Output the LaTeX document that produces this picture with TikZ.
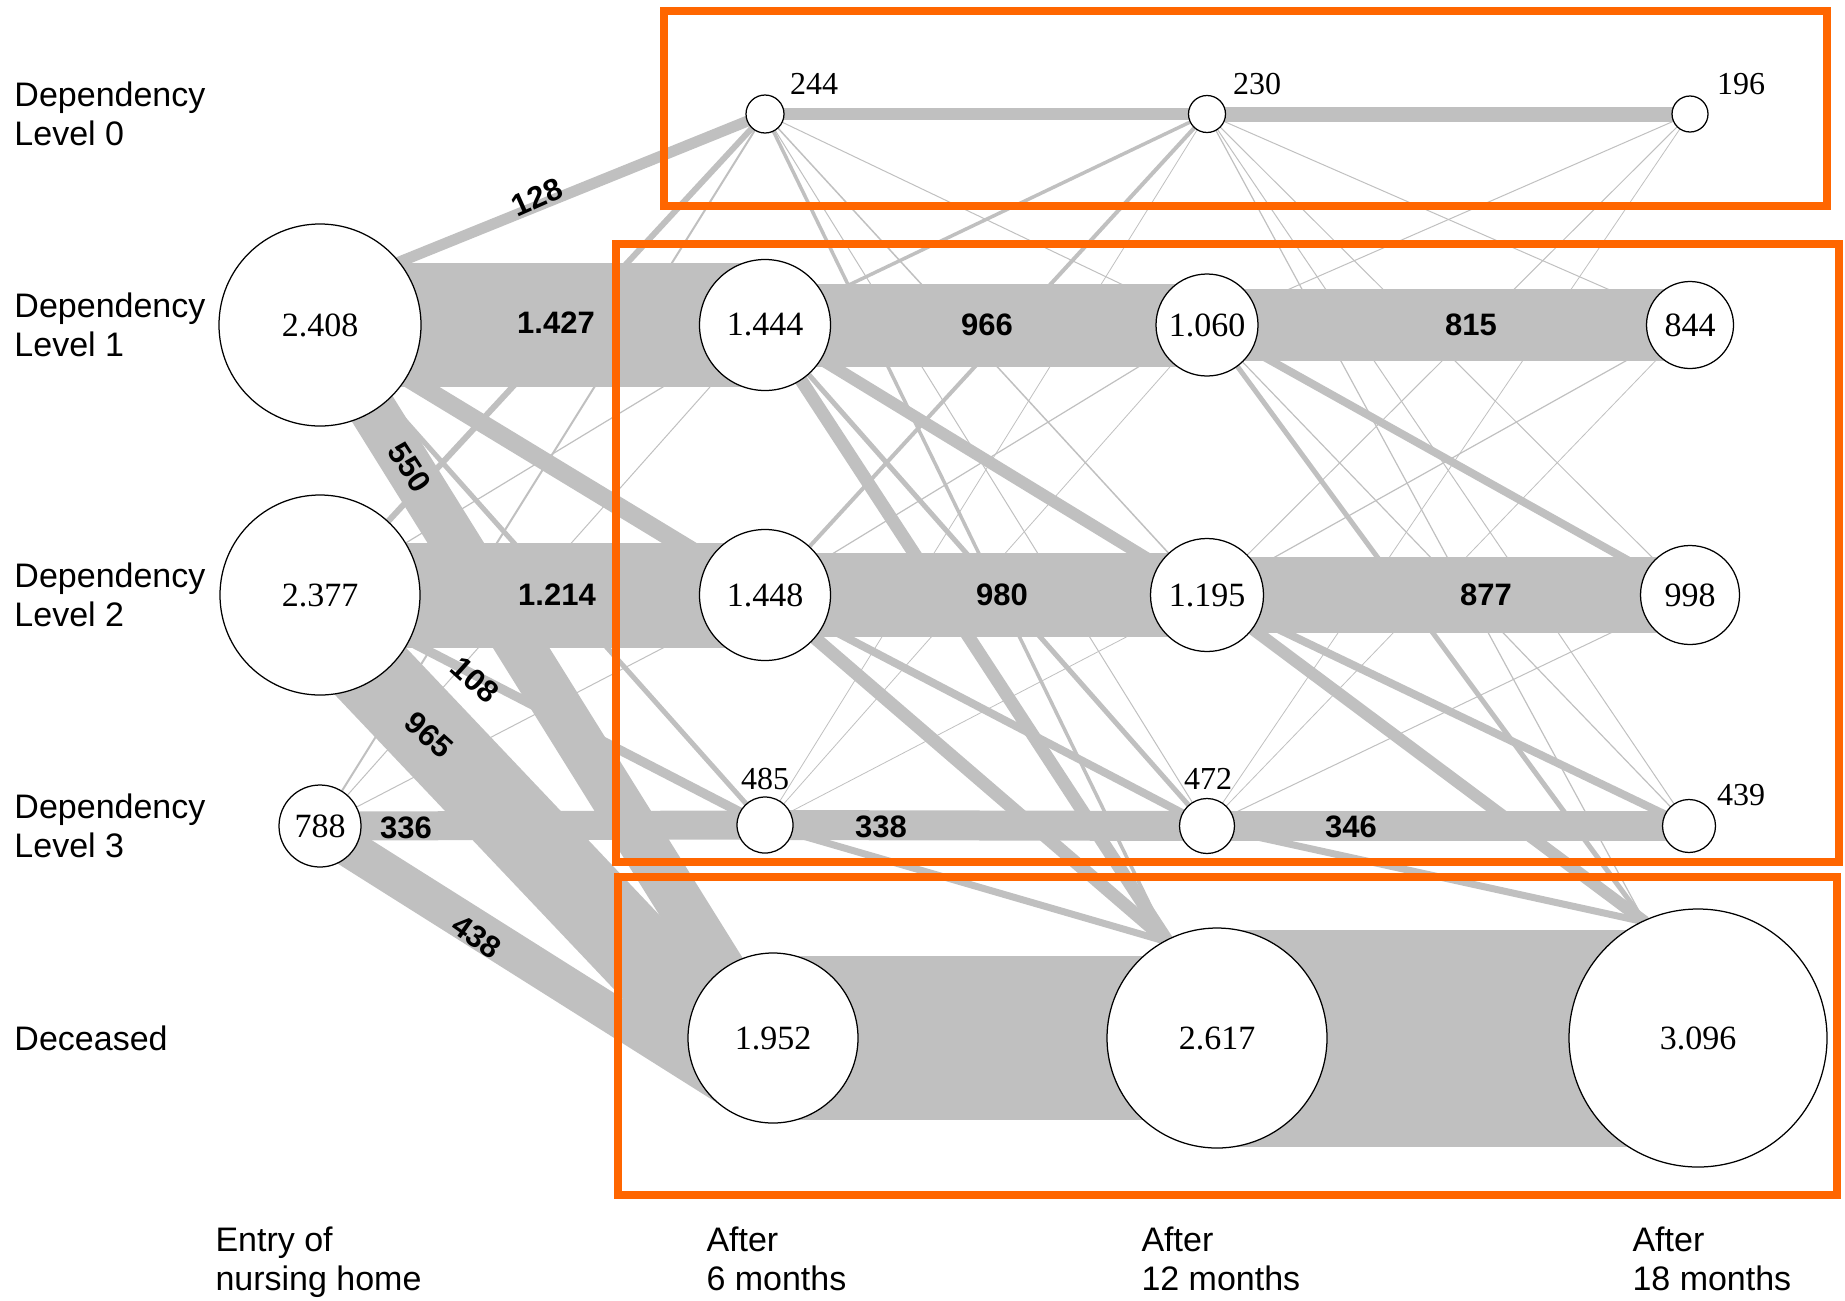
\documentclass[tikz,border=0pt]{standalone}
\usepackage{fontspec}
\setmainfont{Liberation Sans}
\newfontfamily\serifnum{Liberation Serif}
\definecolor{flowgray}{RGB}{192,192,192}
\definecolor{boxorange}{RGB}{255,102,0}
\pgfdeclarelayer{bg}
\pgfsetlayers{bg,main}
\begin{document}
\begin{tikzpicture}[x=0.4pt,y=-0.4pt,
  fl/.style={draw=flowgray,line width=#1*0.4pt},
  st/.style={circle,draw=black,line width=0.5pt,fill=white,inner sep=0pt,minimum size=#1*0.8pt,font=\serifnum\fontsize{13.6}{16}\selectfont},
  lab/.style={font=\fontsize{13.6}{15.6}\selectfont,align=left,inner sep=0pt,anchor=west},
  onum/.style={font=\serifnum\fontsize{12.8}{15}\selectfont,inner sep=0pt},
  flab/.style={font=\bfseries\fontsize{12.4}{14}\selectfont,inner sep=0pt},
  obox/.style={draw=boxorange,line width=3.2pt}]
\useasboundingbox (0,0) rectangle (1845,1300);

% ---------- state nodes ----------
\node[st=101]  (E1) at (320,325)  {2.408};
\node[st=100]  (E2) at (320,595)  {2.377};
\node[st=41]   (E3) at (320,826)  {788};
\node[st=19]   (S0) at (765,114)  {};
\node[st=65.5] (S1) at (765,325)  {1.444};
\node[st=65.5] (S2) at (765,595)  {1.448};
\node[st=28]   (S3) at (765,825)  {};
\node[st=85]   (SD) at (773,1038) {1.952};
\node[st=18.5] (T0) at (1207,114) {};
\node[st=51]   (T1) at (1207,325) {1.060};
\node[st=56.5] (T2) at (1207,595) {1.195};
\node[st=27.5] (T3) at (1207,826) {};
\node[st=110]  (TD) at (1217,1038) {2.617};
\node[st=18]   (U0) at (1690,114) {};
\node[st=43.5] (U1) at (1690,325) {844};
\node[st=49.5] (U2) at (1690,595) {998};
\node[st=26.5] (U3) at (1689,826) {};
\node[st=129]  (UD) at (1698,1038) {3.096};

% ---------- ports ----------
\coordinate (p128) at (330,290);
\coordinate (E2b) at (320,618);
\coordinate (E3c) at (320,830);
\coordinate (SDa) at (725,975);
\coordinate (SDb) at (720,1040);
\coordinate (SDc) at (745,1098);
\coordinate (TDp) at (1168,942);
\coordinate (UDp) at (1645,922);

% ---------- flows ----------
\begin{pgfonlayer}{bg}
% entry -> 6 months
\draw[fl=11]  (p128) -- (S0.center);
\draw[fl=124] (E1.center) -- (S1.center);
\draw[fl=18]  (E1.center) -- (S2.center);
\draw[fl=5]   (E1.center) -- (S3.center);
\draw[fl=48]  (E1.center) -- (SDa);
\draw[fl=6]   (E2.center) -- (S0.center);
\draw[fl=1.2] (E2.center) -- (S1.center);
\draw[fl=105] (E2.center) -- (S2.center);
\draw[fl=9.4] (E2.center) -- (S3.center);
\draw[fl=84]  (E2b) -- (SDb);
\draw[fl=2]   (E3.center) -- (S0.center);
\draw[fl=1]   (E3.center) -- (S1.center);
\draw[fl=1]   (E3.center) -- (S2.center);
\draw[fl=29]  (E3.center) -- (S3.center);
\draw[fl=38]  (E3c) -- (SDc);
% 6 -> 12 months
\draw[fl=12]  (S0.center) -- (T0.center);
\draw[fl=1]   (S0.center) -- (T1.center);
\draw[fl=1.5] (S0.center) -- (T2.center);
\draw[fl=1]   (S0.center) -- (T3.center);
\draw[fl=3.5] (S0.center) -- (TDp);
\draw[fl=3.5] (S1.center) -- (T0.center);
\draw[fl=83]  (S1.center) -- (T1.center);
\draw[fl=12]  (S1.center) -- (T2.center);
\draw[fl=5]   (S1.center) -- (T3.center);
\draw[fl=13]  (S1.center) -- (TDp);
\draw[fl=4]   (S2.center) -- (T0.center);
\draw[fl=1.2] (S2.center) -- (T1.center);
\draw[fl=84]  (S2.center) -- (T2.center);
\draw[fl=8]   (S2.center) -- (T3.center);
\draw[fl=13]  (S2.center) -- (TDp);
\draw[fl=0.8] (S3.center) -- (T0.center);
\draw[fl=0.8] (S3.center) -- (T1.center);
\draw[fl=0.8] (S3.center) -- (T2.center);
\draw[fl=30]  (S3.center) -- (T3.center);
\draw[fl=7]   (S3.center) -- (TDp);
\draw[fl=164] (SD.center) -- (TD.center);
% 12 -> 18 months
\draw[fl=15]  (T0.center) -- (U0.center);
\draw[fl=1]   (T0.center) -- (U1.center);
\draw[fl=1]   (T0.center) -- (U2.center);
\draw[fl=1]   (T0.center) -- (U3.center);
\draw[fl=1.2] (T0.center) -- (UDp);
\draw[fl=1]   (T1.center) -- (U0.center);
\draw[fl=72]  (T1.center) -- (U1.center);
\draw[fl=8]   (T1.center) -- (U2.center);
\draw[fl=1.2] (T1.center) -- (U3.center);
\draw[fl=5]   (T1.center) -- (UDp);
\draw[fl=1]   (T2.center) -- (U0.center);
\draw[fl=1.2] (T2.center) -- (U1.center);
\draw[fl=76]  (T2.center) -- (U2.center);
\draw[fl=8]   (T2.center) -- (U3.center);
\draw[fl=12]  (T2.center) -- (UDp);
\draw[fl=0.8] (T3.center) -- (U0.center);
\draw[fl=0.8] (T3.center) -- (U1.center);
\draw[fl=1]   (T3.center) -- (U2.center);
\draw[fl=30]  (T3.center) -- (U3.center);
\draw[fl=7]   (T3.center) -- (UDp);
\draw[fl=217] (TD.center) -- (UD.center);
\end{pgfonlayer}

% ---------- small counts ----------
\node[onum] (n244) at (814,84)   {244};
\node[onum] (n230) at (1257,84)  {230};
\node[onum] (n196) at (1741,84)  {196};
\node[onum] (n485) at (765,779)  {485};
\node[onum] (n472) at (1208,779) {472};
\node[onum] (n439) at (1741,795) {439};

% ---------- flow labels ----------
\node[flab] (f1427) at (556,323)  {1.427};
\node[flab] (f966)  at (987,325)  {966};
\node[flab] (f815)  at (1471,325) {815};
\node[flab] (f1214) at (557,595)  {1.214};
\node[flab] (f980)  at (1002,595) {980};
\node[flab] (f877)  at (1486,595) {877};
\node[flab] (f336)  at (406,828)  {336};
\node[flab] (f338)  at (881,827)  {338};
\node[flab] (f346)  at (1351,827) {346};
\node[flab,rotate=24]  (f128) at (537,197) {128};
\node[flab,rotate=-57] (f550) at (410,467) {550};
\node[flab,rotate=-42] (f108) at (475,680) {108};
\node[flab,rotate=-42] (f965) at (429,735) {965};
\node[flab,rotate=-35] (f438) at (477,937) {438};

% ---------- row and column labels ----------
\node[lab] (r0) at (14,114)  {Dependency\\Level 0};
\node[lab] (r1) at (14,325)  {Dependency\\Level 1};
\node[lab] (r2) at (14,595)  {Dependency\\Level 2};
\node[lab] (r3) at (14,826)  {Dependency\\Level 3};
\node[lab] (r4) at (14,1038) {Deceased};
\node[lab] (c0) at (215,1262)  {Entry of\\nursing home};
\node[lab] (c1) at (706,1259)  {After\\6 months};
\node[lab] (c2) at (1141,1259) {After\\12 months};
\node[lab] (c3) at (1632,1259) {After\\18 months};

% ---------- orange frames ----------
\draw[obox] (663.5,11) rectangle (1827,206);
\draw[obox] (616,244) rectangle (1839,862);
\draw[obox] (618,877) rectangle (1837,1195);
\end{tikzpicture}
\end{document}
